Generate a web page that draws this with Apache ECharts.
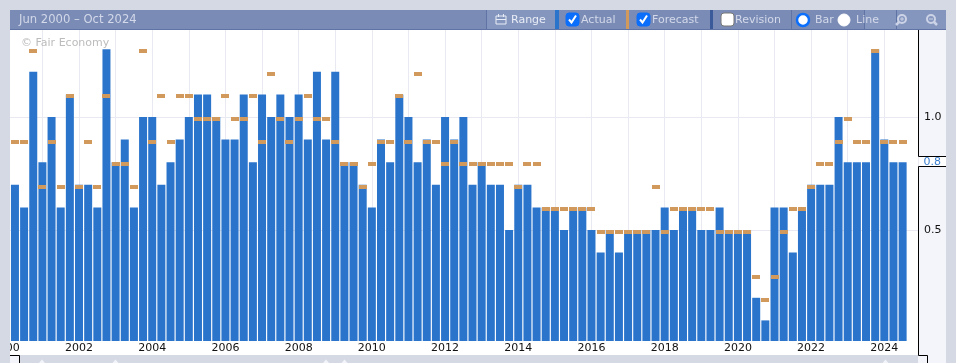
<!DOCTYPE html>
<html><head><meta charset="utf-8">
<style>html,body{margin:0;padding:0;background:#d5d9e3}#c{width:956px;height:363px}</style>
<script src="https://cdn.jsdelivr.net/npm/echarts@6/dist/echarts.min.js"></script>
</head><body><div id="c"></div>
<script>
const firstPeriod = 2000.25;
const periodStep = 0.25;
const actual = [0.7,0.6,1.2,0.8,1.0,0.6,1.1,0.7,0.7,0.6,1.3,0.8,0.9,0.6,1.0,1.0,0.7,0.8,0.9,1.0,1.1,1.1,1.0,0.9,0.9,1.1,0.8,1.1,1.0,1.1,1.0,1.1,0.9,1.2,0.9,1.2,0.8,0.8,0.7,0.6,0.9,0.8,1.1,1.0,0.8,0.9,0.7,1.0,0.9,1.0,0.7,0.8,0.7,0.7,0.5,0.7,0.7,0.6,0.6,0.6,0.5,0.6,0.6,0.5,0.4,0.5,0.4,0.5,0.5,0.5,0.5,0.6,0.5,0.6,0.6,0.5,0.5,0.6,0.5,0.5,0.5,0.2,0.1,0.6,0.6,0.4,0.6,0.7,0.7,0.7,1.0,0.8,0.8,0.8,1.3,0.9,0.8,0.8];
const forecast = [0.9,0.9,1.3,0.7,0.9,0.7,1.1,0.7,0.9,0.7,1.1,0.8,0.8,0.7,1.3,0.9,1.1,0.9,1.1,1.1,1.0,1.0,1.0,1.1,1.0,1.0,1.1,0.9,1.2,1.0,0.9,1.0,1.1,1.0,1.0,0.9,0.8,0.8,0.7,0.8,0.9,0.9,1.1,0.9,1.2,0.9,0.9,0.8,0.9,0.8,0.8,0.8,0.8,0.8,0.8,0.7,0.8,0.8,0.6,0.6,0.6,0.6,0.6,0.6,0.5,0.5,0.5,0.5,0.5,0.5,0.7,0.5,0.6,0.6,0.6,0.6,0.6,0.5,0.5,0.5,0.5,0.3,0.2,0.3,0.5,0.6,0.6,0.7,0.8,0.8,0.9,1.0,0.9,0.9,1.3,0.9,0.9,0.9];
const valueTicks = [0.5,1.0];
const periodText = 'Jun 2000 \u2013 Oct 2024';
const watermark = '\u00a9 Fair Economy';
const latestValue = '0.8';

const dates = actual.map((_,i)=>firstPeriod+i*periodStep);
const FONT = '"DejaVu Sans", sans-serif';
const BG='#d5d9e3', TB='#7a8bb5', TBL='#8596be', TXT='#d3d9ea';

function rect(x,y,w,h,fill,z){return {type:'rect',silent:true,z:z===undefined?-1:z,shape:{x,y,width:w,height:h},style:{fill}};}
function line(x1,y1,x2,y2,stroke,z){return {type:'line',silent:true,z:z===undefined?50:z,shape:{x1,y1,x2,y2},style:{stroke,lineWidth:1}};}
function text(x,y,t,fill,size,z){return {type:'text',silent:true,z:z===undefined?60:z,x,y,style:{text:t,fill,font:(size||11)+'px '+FONT,verticalAlign:'middle'}};}
function check(x,on){
  const a=[{type:'rect',silent:true,z:60,shape:{x,y:13,width:13,height:13,r:3},style:{fill:on?'#0b6ffb':'#fff',stroke:on?'#0b6ffb':'#777',lineWidth:1}}];
  if(on)a.push({type:'polyline',silent:true,z:61,shape:{points:[[x+3,19.5],[x+5.5,22.5],[x+10,15.5]]},style:{stroke:'#fff',fill:null,lineWidth:2}});
  return a;
}
function radio(x,on){
  return [{type:'circle',silent:true,z:60,shape:{cx:x,cy:20,r:6},style:{fill:'#fff',stroke:on?'#0b6ffb':'#fff',lineWidth:on?2.5:1}}];
}
function magnifier(cx,plus){
  const c='#ccd3e6';
  const dir=plus?-1:1;
  const els=[{type:'circle',silent:true,z:60,shape:{cx,cy:19,r:4},style:{fill:null,stroke:c,lineWidth:2}},
    line(cx+dir*3,22,cx+dir*6,25,c,60)];
  els[1].style.lineWidth=2.5;
  els.push(line(cx-2,19,cx+2,19,c,60));
  if(plus)els.push(line(cx,17,cx,21,c,60));
  return els;
}
function handle(x){return {type:'polygon',silent:true,z:45,shape:{points:[[x-3,363],[x,359.5],[x+3,363]]},style:{fill:'#f2f4f9'}};}
const chrome=[
  rect(10,30,908,325,'#fff',-2),
  rect(918,30,28,333,'#f4f5fa',-1),
  rect(919,157,27,10,'#fff',-1),
  line(918.5,30,918.5,156.5,'#000'),
  line(918.5,156.5,946,156.5,'#000'),
  line(918.5,166.5,946,166.5,'#000'),
  line(918.5,166.5,918.5,355.5,'#000'),
  line(918.5,355.5,927.5,355.5,'#000'),
  line(927.5,355.5,927.5,363,'#000'),
  rect(0,0,10,363,BG,40),
  rect(10,355,908,8,BG,40),
  rect(10,355,9,8,'#f4f5fa',41),
  line(10,355.5,19.5,355.5,'#000'),
  line(19.5,355.5,19.5,363,'#000'),
  handle(42),handle(115.5),handle(326),handle(344.5),handle(885.5),
  rect(10,10,936,20,TB,40),
  rect(10,29,936,1,'#5f73a5',41),
  rect(487,10,68,19,TBL,41),
  rect(486,10,1,19,'#5f73a5',42),
  rect(555,10,4,19,'#2a74cc',42),
  rect(626,10,3,19,'#d19a5c',42),
  rect(710,10,3,19,'#3a5a9a',42),
  rect(791,10,1,19,'#5f73a5',42),
  rect(864,10,1,19,'#5f73a5',42),
  rect(865,10,31,19,TBL,41),
  rect(896,10,1,19,'#5f73a5',42),
  rect(897,10,49,19,TBL,41),
  text(19,20,periodText,TXT,11.6),
  text(21,43,watermark,'#bcbcbc',11),
  text(511,20,'Range','#e8ecf6',11),
  text(581,20,'Actual',TXT,11),
  text(652,20,'Forecast',TXT,11),
  text(735,20,'Revision',TXT,11),
  text(815,20,'Bar',TXT,11),
  text(856,20,'Line',TXT,11),
  text(923.5,162.5,latestValue,'#3a7fd0',11),
  ...check(566,true),...check(637,true),...check(721,false),
  ...radio(803,true),...radio(844,false),
  ...magnifier(902,true),...magnifier(931,false),
  {type:'rect',silent:true,z:60,shape:{x:496,y:16,width:10,height:8},style:{fill:null,stroke:'#e8ecf6',lineWidth:1}},
  line(496,19.5,506,19.5,'#e8ecf6',60),
  line(498.5,14,498.5,17,'#e8ecf6',60),
  line(503.5,14,503.5,17,'#e8ecf6',60),
];
function renderForecast(params,api){
  const p=api.coord([api.value(0),api.value(1)]);
  return {type:'rect',shape:{x:Math.round(p[0]-4),y:Math.round(p[1]),width:8,height:4},style:{fill:'#d19a5c'}};
}
const chart=echarts.init(document.getElementById('c'),null,{renderer:'canvas'});
chart.setOption({
  animation:false,
  backgroundColor:BG,
  graphic:{elements:chrome},
  grid:{left:5.8,right:38,top:30,bottom:22,containLabel:false,outerBoundsMode:'none'},
  xAxis:{type:'value',min:2000,max:2024.92,interval:1,
    axisLine:{show:false},axisTick:{show:false},
    splitLine:{show:true,lineStyle:{color:'#e9e9f1',width:1}},
    axisLabel:{margin:2,color:'#111',fontFamily:FONT,fontSize:11,showMinLabel:true,hideOverlap:false,
      formatter:v=>(Number.isInteger(v)&&v%2===0)?String(v):''}},
  yAxis:{type:'value',position:'right',min:0.0088,max:1.385,
    axisLine:{show:false},
    axisTick:{show:false,customValues:valueTicks},
    splitLine:{show:true,lineStyle:{color:'#e9e9f1',width:1}},
    axisLabel:{customValues:valueTicks,margin:5,padding:[4,0,0,1],color:'#111',fontFamily:FONT,fontSize:11,formatter:v=>v.toFixed(1)}},
  series:[
    {name:'Actual',type:'bar',barWidth:8,itemStyle:{color:'#2a74cc'},data:dates.map((d,i)=>[d,actual[i]])},
    {name:'Forecast',type:'custom',renderItem:renderForecast,encode:{x:0,y:1},clip:false,z:5,data:dates.map((d,i)=>[d,forecast[i]])}
  ]
});
</script></body></html>
